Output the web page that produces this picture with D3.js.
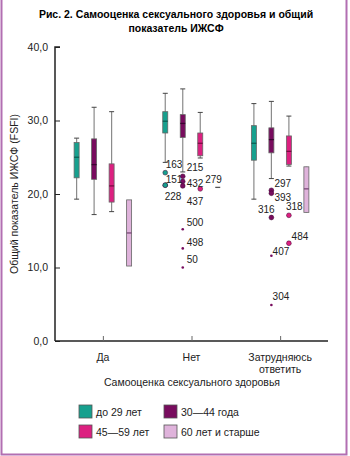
<!DOCTYPE html>
<html>
<head>
<meta charset="utf-8">
<script src="https://cdn.jsdelivr.net/npm/d3@7"></script>
<style>
  body { margin: 0; background: #fff; }
  svg { display: block; font-family: "Liberation Sans", Arial, sans-serif; }
</style>
</head>
<body>
<div id="chart-area"></div>
<script>
const W = 350, H = 456
const MARGIN = { LEFT: 55, RIGHT: 22, TOP: 47, BOTTOM: 115 }

// categories / groups
const categories = ["Да", "Нет", "Затрудняюсь ответить"]
const ageGroups = ["до 29 лет", "30—44 года", "45—59 лет", "60 лет и старше"]
const yTicks = [0, 10, 20, 30, 40]

// [нижний ус, Q1, медиана, Q3, верхний ус] for each category
const under29 = [[19.3, 22.2, 25.0, 27.0, 27.6], [24.3, 28.3, 29.9, 31.2, 33.7], [19.3, 24.6, 26.9, 29.3, 32.3]]
const age30_44 = [[17.2, 22.0, 24.0, 27.5, 31.8], [23.0, 27.7, 29.6, 30.8, 34.3], [22.1, 25.6, 27.4, 29.0, 32.6]]
const age45_59 = [[17.6, 18.9, 21.1, 24.1, 31.2], [24.9, 25.2, 26.9, 28.3, 31.1], [23.8, 24.0, 25.8, 27.9, 30.6]]
const age60plus = [[10.2, 10.2, 14.7, 19.2, 19.2], [20.9, 20.9, 20.9, 20.9, 20.9], [17.5, 17.5, 20.7, 23.7, 23.7]]
const seriesStats = [under29, age30_44, age45_59, age60plus]

// outliers: category index, group index, value, case id, kind (o = outlier, e = extreme, n = no marker)
const outliers = [
  [1, 0, 22.9, "163", "o"], [1, 0, 21.2, "151", "o"], [1, 0, 21.2, "228", "o"],
  [1, 1, 22.4, "215", "o"], [1, 1, 21.7, "432", "o"], [1, 1, 21.1, "437", "o"],
  [1, 2, 20.7, "", "o"], [1, 3, 20.9, "279", "n"],
  [1, 1, 15.2, "500", "e"], [1, 1, 12.6, "498", "e"], [1, 1, 10.0, "50", "e"],
  [2, 1, 20.5, "297", "o"], [2, 1, 20.1, "393", "o"], [2, 1, 16.8, "316", "o"],
  [2, 2, 17.1, "318", "o"], [2, 2, 13.3, "484", "o"],
  [2, 1, 11.6, "407", "e"], [2, 1, 4.9, "304", "e"]
]

// label nudges (layout only)
const labelNudge = {
  "163": [0.5, -4.5], "151": [0.5, -2.3], "228": [-0.5, 14.7],
  "215": [4, -5], "432": [4, 5], "437": [4, 19.5], "279": [-12.5, -4.7],
  "500": [4, -3], "498": [4, -2.6], "50": [4, -4.5],
  "297": [3, -3.3], "393": [3, 8.2], "316": [-13.5, -4.5],
  "318": [-3, -5.3], "484": [2.7, -3.7], "407": [1.2, -1.2], "304": [1.2, -5]
}

const colors = ["#17a08e", "#780c5e", "#dc2080", "#dfb3db"]
const darker = ["#0c5e53", "#3a0430", "#7a0c44", "#7a4a78"]

const svg = d3.select("#chart-area").append("svg")
  .attr("width", W)
  .attr("height", H)

// frame
const frame = "#b26fb2"
svg.append("path")
  .attr("d", `M1.5,0 V454.5 H346.5 V0`)
  .attr("fill", "none")
  .attr("stroke", frame)
  .attr("stroke-width", 2)

// title
svg.append("text")
  .attr("x", 176).attr("y", 18)
  .attr("text-anchor", "middle")
  .style("font-size", "10.5px").style("font-weight", "bold")
  .text("Рис. 2. Самооценка сексуального здоровья и общий")
svg.append("text")
  .attr("x", 176).attr("y", 32)
  .attr("text-anchor", "middle")
  .style("font-size", "10.5px").style("font-weight", "bold")
  .text("показатель ИЖСФ")

const y = d3.scaleLinear().domain([0, 40]).range([341, 47])
const x = d3.scalePoint().domain(categories).range([55, 328]).padding(0.54)
const sub = d3.scaleBand().domain(d3.range(4)).range([-35, 35])
const bw = 5

// Y axis
const yAxis = svg.append("g")
  .attr("transform", `translate(55,0)`)
  .call(d3.axisRight(y).tickValues(yTicks).tickSize(5).tickFormat(d => d3.format(".1f")(d).replace(".", ",")))
yAxis.select(".domain").attr("stroke", "#222").attr("stroke-width", 1.5).attr("d", "M5,47H0V341")
yAxis.selectAll(".tick line").attr("stroke", "#222")
yAxis.selectAll(".tick text")
  .attr("x", -7).attr("text-anchor", "end")
  .style("font-size", "10.5px").attr("fill", "#222")

// X axis
const xAxis = svg.append("g")
  .attr("transform", `translate(0,341)`)
  .call(d3.axisTop(x).tickSize(5).tickFormat(""))
xAxis.select(".domain").attr("stroke", "#222").attr("stroke-width", 1.5).attr("d", "M55,0H328")
xAxis.selectAll(".tick line").attr("stroke", "#666")

categories.forEach(c => {
  const words = c.split(" ")
  const t = svg.append("text")
    .attr("x", x(c)).attr("y", 361)
    .attr("text-anchor", "middle")
    .style("font-size", "10.5px").attr("fill", "#222")
  words.forEach((w, i) => t.append("tspan").attr("x", x(c)).attr("dy", i ? 12 : 0).text(w))
})

svg.append("text")
  .attr("x", 192).attr("y", 386)
  .attr("text-anchor", "middle")
  .style("font-size", "10.5px").attr("fill", "#222")
  .text("Самооценка сексуального здоровья")

svg.append("text")
  .attr("transform", `translate(18,${(47 + 341) / 2}) rotate(-90)`)
  .attr("text-anchor", "middle")
  .style("font-size", "10.5px").attr("fill", "#222")
  .text("Общий показатель ИЖСФ (FSFI)")

// boxes
const boxes = []
seriesStats.forEach((s, g) => s.forEach((v, c) => boxes.push({ g, c, v })))

const bx = svg.append("g")
const box = bx.selectAll("g.box").data(boxes).join("g")
  .attr("transform", d => `translate(${x(categories[d.c]) + sub.bandwidth() / 2 + sub(d.g)},0)`)

box.append("line")
  .attr("y1", d => y(d.v[0])).attr("y2", d => y(d.v[4]))
  .attr("stroke", "#8a8a8a").attr("stroke-width", 1.2)
box.filter(d => d.v[0] < d.v[1]).append("line")
  .attr("x1", -2.5).attr("x2", 2.5)
  .attr("y1", d => y(d.v[0])).attr("y2", d => y(d.v[0]))
  .attr("stroke", "#444")
box.filter(d => d.v[4] > d.v[3]).append("line")
  .attr("x1", -2.5).attr("x2", 2.5)
  .attr("y1", d => y(d.v[4])).attr("y2", d => y(d.v[4]))
  .attr("stroke", "#444")
box.append("rect")
  .attr("x", -bw / 2).attr("width", bw)
  .attr("y", d => y(d.v[3]))
  .attr("height", d => y(d.v[1]) - y(d.v[3]))
  .attr("fill", d => colors[d.g])
  .attr("stroke", "#666").attr("stroke-width", 0.8)
box.append("line")
  .attr("x1", -bw / 2).attr("x2", bw / 2)
  .attr("y1", d => y(d.v[2])).attr("y2", d => y(d.v[2]))
  .attr("stroke", d => d.v[1] === d.v[3] ? "#555" : darker[d.g]).attr("stroke-width", 1.3)

// outliers
const ox = d => x(categories[d[0]]) + sub.bandwidth() / 2 + sub(d[1])
const pts = svg.append("g")
pts.selectAll("circle.o").data(outliers.filter(d => d[4] === "o")).join("circle")
  .attr("cx", ox).attr("cy", d => y(d[2])).attr("r", 2.4)
  .attr("fill", d => colors[d[1]]).attr("stroke", darker[1]).attr("stroke-width", 0.5)
pts.selectAll("circle.e").data(outliers.filter(d => d[4] === "e")).join("circle")
  .attr("cx", ox).attr("cy", d => y(d[2])).attr("r", 1.3)
  .attr("fill", d => colors[d[1]])

pts.selectAll("text").data(outliers.filter(d => d[3] !== "")).join("text")
  .attr("x", d => ox(d) + labelNudge[d[3]][0])
  .attr("y", d => y(d[2]) + labelNudge[d[3]][1])
  .style("font-size", "10px").attr("fill", "#222")
  .text(d => d[3])

// legend
const legend = svg.append("g")
const lg = legend.selectAll("g").data(ageGroups).join("g")
  .attr("transform", (d, i) => `translate(${i % 2 ? 164 : 79},${i < 2 ? 405 : 425})`)
lg.append("rect").attr("width", 13).attr("height", 13)
  .attr("fill", (d, i) => colors[i]).attr("stroke", "#555").attr("stroke-width", 0.8)
lg.append("text").attr("x", 17).attr("y", 10.5)
  .style("font-size", "10.5px").attr("fill", "#222")
  .text(d => d)
</script>
</body>
</html>
